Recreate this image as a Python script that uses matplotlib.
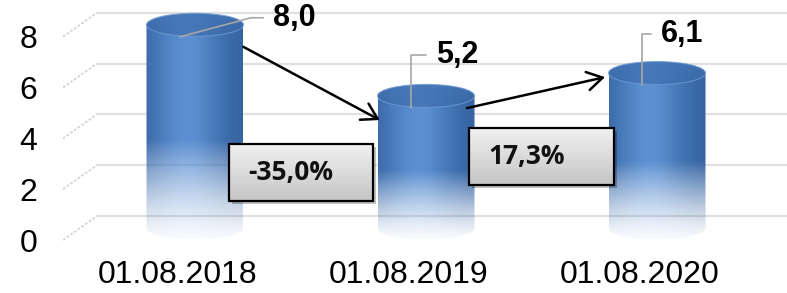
import numpy as np
import matplotlib
matplotlib.use("Agg")
import matplotlib.pyplot as plt
from matplotlib.patches import Ellipse, Rectangle, PathPatch
from matplotlib.path import Path
from matplotlib.transforms import ScaledTranslation
from matplotlib.colors import to_rgb

# ---------------- data ----------------
categories = ["01.08.2018", "01.08.2019", "01.08.2020"]
values = [8.0, 5.2, 6.1]
y_ticks = [0, 2, 4, 6, 8]

# ---------------- layout ----------------
W, H, DPI = 787, 293, 100
PX_X = 231.0      # pixels per category step
PX_Y = 25.4       # pixels per value unit
AX_LEFT, AX_BOTTOM = 63, 245
FIRST_X = 195     # px of first cylinder centre
BASE_Y = 228      # px (from top) of value 0 at cylinder depth

DX = 17 / PX_X    # half depth offset (x)
DY = 12 / PX_Y    # half depth offset (y)
A = 48.5 / PX_X   # cylinder half width
B = 11.5 / PX_Y   # ellipse half height

LABEL_FONT = ["Liberation Sans", "DejaVu Sans"]
BOX_FONT = ["Open Sans", "DejaVu Sans"]

fig = plt.figure(figsize=(W / DPI, H / DPI), dpi=DPI)
fig.patch.set_facecolor("white")
ax = fig.add_axes([AX_LEFT / W, (H - AX_BOTTOM) / H, (W - AX_LEFT) / W, AX_BOTTOM / H])
ax.patch.set_alpha(0)
xlim = ((AX_LEFT - FIRST_X) / PX_X, (W - FIRST_X) / PX_X)
ylim = (-(AX_BOTTOM - BASE_Y) / PX_Y, BASE_Y / PX_Y)

# ---------------- grid (perspective) ----------------
for g in y_ticks:
    ax.plot([xlim[0], xlim[0] + 2 * DX], [g - DY, g + DY], color="#d4d4d4",
            lw=1.3, ls=(0, (1.5, 1)), zorder=0, solid_capstyle="butt")
    ax.plot([xlim[0] + 2 * DX, xlim[1]], [g + DY, g + DY], color="#e0e0e0",
            lw=1.6, zorder=0)

# ---------------- cylinders ----------------
dark = np.array(to_rgb("#33619f"))
light = np.array(to_rgb("#5c90d2"))
nx, ny = 120, 300
u = np.linspace(0, 1, nx)
shade = np.exp(-((u - 0.42) / 0.36) ** 2)
body_rgb = dark[None, :] + (light - dark)[None, :] * shade[:, None]

top_dark = np.array(to_rgb("#3766a4"))
top_light = np.array(to_rgb("#4f80c0"))

for i, v in enumerate(values):
    theta = np.linspace(np.pi, 2 * np.pi, 80)
    bx = i + A * np.cos(theta)
    by = B * np.sin(theta)
    verts = [(i - A, v)] + list(zip(bx, by)) + [(i + A, v), (i - A, v)]
    body_path = Path(np.array(verts), closed=True)
    clip = PathPatch(body_path, facecolor="none", edgecolor="none", transform=ax.transData)
    ax.add_patch(clip)

    yy = np.linspace(-B, v + B, ny)
    fade_top = 0.43 * v
    a = np.clip((yy + B) / (fade_top + B), 0, 1)
    alpha = 0.04 + 0.96 * a ** 1.3
    rgba = np.zeros((ny, nx, 4))
    rgba[:, :, :3] = body_rgb[None, :, :]
    rgba[:, :, 3] = alpha[:, None]
    im = ax.imshow(rgba, extent=(i - A, i + A, -B, v + B), origin="lower",
                   aspect="auto", interpolation="bilinear", zorder=2)
    im.set_clip_path(clip)

    # top ellipse
    top = Ellipse((i, v), 2 * A, 2 * B, facecolor="none", edgecolor="none",
                  transform=ax.transData)
    ax.add_patch(top)
    ty = np.linspace(0, 1, 60)  # 0 bottom(front) -> 1 back
    mix = 0.35 * ty[:, None] + 0.65 * shade[None, :] * (1 - ty[:, None] * 0.5)
    trgb = top_dark[None, None, :] + (top_light - top_dark)[None, None, :] * mix[:, :, None]
    imt = ax.imshow(trgb, extent=(i - A, i + A, v - B, v + B), origin="lower",
                    aspect="auto", interpolation="bilinear", zorder=3)
    imt.set_clip_path(top)
    ax.add_patch(Ellipse((i, v), 2 * A, 2 * B, facecolor="none", edgecolor="#6f9ad2",
                         lw=0.8, alpha=0.8, zorder=3.1))

# ---------------- value labels with leader lines ----------------
LABEL_OFFSETS = [(67, 13.7), (18, 38.0), (13.7, 36.7)]   # points
LEADER_ANGLES = [15, 90, 90]
for i, v in enumerate(values):
    ax.annotate(f"{v:.1f}".replace(".", ","), xy=(i - 15 / PX_X, v - DY),
                xytext=LABEL_OFFSETS[i], textcoords="offset points",
                ha="left", va="center", fontsize=22, fontweight="bold",
                family=LABEL_FONT, color="black", zorder=6,
                arrowprops=dict(arrowstyle="-", color="#a6a6a6", lw=1.2,
                                shrinkA=5, shrinkB=0, relpos=(0, 0.5),
                                connectionstyle=f"angle,angleA=0,angleB={LEADER_ANGLES[i]},rad=0"))

# ---------------- change boxes ----------------
BOX_CX = [0.46, 0.50]
BOX_CY = [2.2, 2.83]
BOX_W, BOX_H = 0.625, 2.24
grad = np.linspace(0, 1, 50)
c_top = np.array(to_rgb("#f0f0f0"))
c_bot = np.array(to_rgb("#c6c6c6"))
box_rgb = (c_bot[None, :] + (c_top - c_bot)[None, :] * grad[:, None])[:, None, :]
shadow_tr = ax.transData + ScaledTranslation(3 / DPI, -3 / DPI, fig.dpi_scale_trans)
for k in range(len(values) - 1):
    pct = (values[k + 1] - values[k]) / values[k] * 100
    label = f"{pct:.1f}%".replace(".", ",")
    cx, cy = k + BOX_CX[k], BOX_CY[k]
    x0, x1 = cx - BOX_W / 2, cx + BOX_W / 2
    y0, y1 = cy - BOX_H / 2, cy + BOX_H / 2
    ax.add_patch(Rectangle((x0, y0), BOX_W, BOX_H, transform=shadow_tr,
                           facecolor="black", alpha=0.25, edgecolor="none", zorder=4))
    ax.imshow(box_rgb, extent=(x0, x1, y0, y1), origin="lower", aspect="auto",
              interpolation="bilinear", zorder=4.1)
    ax.add_patch(Rectangle((x0, y0), BOX_W, BOX_H, facecolor="none",
                           edgecolor="black", lw=1.6, zorder=4.2))
    ax.text(x0 + 19 / PX_X, cy, label, ha="left", va="center", fontsize=19,
            fontweight="bold", family=BOX_FONT, color="#111111", zorder=4.3)

# ---------------- arrows between cylinders ----------------
ARROW_START_DROP = [0.87, 0.48]
ARROW_END_DROP = [0.95, 0.16]
ARROW_START_DX = [A, 0.177]
ARROW_END_DX = [0.20, 0.225]
for k in range(len(values) - 1):
    start = (k + ARROW_START_DX[k], values[k] - ARROW_START_DROP[k])
    end = (k + 1 - ARROW_END_DX[k], values[k + 1] - ARROW_END_DROP[k])
    ax.annotate("", xy=end, xytext=start,
                arrowprops=dict(arrowstyle="->,head_length=0.55,head_width=0.33",
                                lw=1.8, color="black", shrinkA=0, shrinkB=0,
                                mutation_scale=20),
                zorder=5)

# ---------------- axes / ticks ----------------
ax.set_yticks([g - DY for g in y_ticks])
ax.set_yticklabels([str(g) for g in y_ticks], fontsize=23, family=LABEL_FONT)
ax.set_xticks([i - DX for i in range(len(categories))])
ax.set_xticklabels(categories, fontsize=23, family=LABEL_FONT)
ax.tick_params(axis="y", length=0, pad=18.7)
ax.tick_params(axis="x", length=0, pad=11)
for s in ax.spines.values():
    s.set_visible(False)
ax.set_xlim(*xlim)
ax.set_ylim(*ylim)

fig.savefig("out.png", dpi=DPI)
